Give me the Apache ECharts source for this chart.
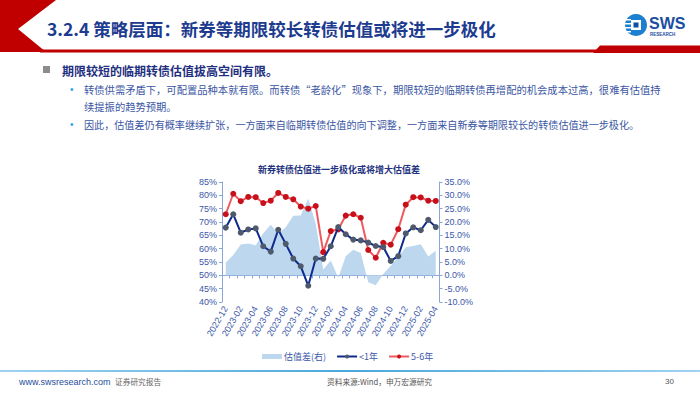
<!DOCTYPE html>
<html>
<head>
<meta charset="utf-8">
<script src="https://cdn.jsdelivr.net/npm/echarts@6/dist/echarts.min.js"></script>
<style>
html,body{margin:0;padding:0;background:#fff;}
#c{width:700px;height:394px;}
</style>
</head>
<body>
<div id="c"></div>
<script>
// ---- data ----
var months = ['2022-12','2023-01','2023-02','2023-03','2023-04','2023-05','2023-06','2023-07','2023-08','2023-09','2023-10','2023-11','2023-12','2024-01','2024-02','2024-03','2024-04','2024-05','2024-06','2024-07','2024-08','2024-09','2024-10','2024-11','2024-12','2025-01','2025-02','2025-03','2025-04'];
var spread = [4.7, 7.6, 11.6, 11.9, 11.3, 15.8, 19.0, 15.6, 18.0, 22.3, 22.4, 28.7, 19.3, 2.2, 5.6, -0.9, 7.2, 9.6, 8.4, -2.6, -3.7, 0.5, 3.6, 7.0, 10.5, 11.0, 11.7, 7.1, 9.2];
var lt1 = [67.9, 72.9, 66.0, 67.2, 67.6, 60.9, 58.9, 67.1, 61.8, 56.3, 53.4, 46.1, 56.3, 56.2, 60.9, 68.1, 65.4, 63.4, 63.1, 62.3, 61.0, 60.6, 55.4, 57.2, 65.7, 68.0, 66.9, 70.8, 68.1];
var y56 = [72.9, 80.6, 77.8, 79.4, 79.3, 77.1, 78.0, 80.9, 79.4, 78.5, 75.8, 75.0, 76.0, 58.7, 66.6, 67.2, 72.4, 72.9, 71.6, 59.5, 56.6, 62.2, 61.5, 67.3, 76.5, 79.3, 79.2, 78.0, 77.9];
var leftTicks = {min: 40, max: 85, step: 5};
var rightTicks = {min: -10, max: 35, step: 5};

var CJK = '"Noto Sans CJK SC", "Liberation Sans", sans-serif';
var LAT = '"Liberation Sans", "Noto Sans CJK SC", sans-serif';
var axisBlue = '#8aa6d8';
var labelBlue = '#3a57a8';

var chart = echarts.init(document.getElementById('c'), null, {renderer: 'svg'});

function txt(text, x, y, size, color, weight, family, align) {
  return {
    type: 'text', silent: true,
    style: {
      text: text, x: x, y: y, fill: color,
      font: (weight || 'normal') + ' ' + size + 'px ' + (family || CJK),
      align: align || 'left', verticalAlign: 'middle'
    }
  };
}

var graphics = [
  // header chevron
  {type: 'polygon', silent: true, shape: {points: [[0,0],[56,0],[18,29],[46,52],[0,52]]}, style: {fill: '#c00000'}},
  {type: 'rect', silent: true, shape: {x: 40, y: 49.5, width: 560, height: 3}, style: {fill: '#c00000'}},
  {type: 'polygon', silent: true, shape: {points: [[600,45.5],[700,45.5],[700,53],[593,53]]}, style: {fill: '#c00000'}},
  txt('3.2.4 策略层面：新券等期限较长转债估值或将进一步极化', 47, 28, 17.5, '#1d3b8f', 'bold'),
  // logo
  {type: 'circle', silent: true, shape: {cx: 636, cy: 25, r: 11}, style: {fill: '#1c7fd0'}},
  {type: 'rect', silent: true, shape: {x: 622, y: 19, width: 9, height: 1.5}, style: {fill: '#fff'}},
  {type: 'rect', silent: true, shape: {x: 622, y: 23, width: 9, height: 1.5}, style: {fill: '#fff'}},
  {type: 'rect', silent: true, shape: {x: 622, y: 27, width: 9, height: 1.5}, style: {fill: '#fff'}},
  {type: 'rect', silent: true, shape: {x: 622, y: 31, width: 9, height: 1.5}, style: {fill: '#fff'}},
  {type: 'rect', silent: true, shape: {x: 631, y: 20, width: 10, height: 10}, style: {fill: '#fff'}},
  {type: 'rect', silent: true, shape: {x: 633.5, y: 22.5, width: 5, height: 5}, style: {fill: '#0e4fa3'}},
  txt('SWS', 649, 23, 16, '#1a4ea0', 'bold', LAT),
  txt('RESEARCH', 650, 34, 4.5, '#1a4ea0', 'bold', LAT),
  // bullets
  {type: 'rect', silent: true, shape: {x: 43, y: 66, width: 7, height: 7}, style: {fill: '#8c8c8c'}},
  txt('期限较短的临期转债估值拔高空间有限。', 62, 70, 12, '#1f2f80', 'bold'),
  txt('•', 70, 89, 10, '#2aa3df', 'normal', LAT),
  txt('转债供需矛盾下，可配置品种本就有限。而转债“老龄化”现象下，期限较短的临期转债再增配的机会成本过高，很难有估值持', 84, 89, 10.3, '#3b56a3'),
  txt('续提振的趋势预期。', 84, 106, 10.3, '#3b56a3'),
  txt('•', 70, 124, 10, '#2aa3df', 'normal', LAT),
  txt('因此，估值差仍有概率继续扩张，一方面来自临期转债估值的向下调整，一方面来自新券等期限较长的转债估值进一步极化。', 84, 124, 10.1, '#3b56a3'),
  // footer
  {type: 'rect', silent: true, shape: {x: 0, y: 370, width: 700, height: 2},
    style: {fill: new echarts.graphic.LinearGradient(0, 0, 1, 0, [{offset: 0, color: '#9fd3f0'}, {offset: 0.5, color: '#4aa8dc'}, {offset: 1, color: '#9fd3f0'}])}},
  txt('www.swsresearch.com', 19, 382, 9, '#1f4e9c', 'normal', LAT),
  txt('证券研究报告', 115, 381, 7.7, '#666666'),
  txt('资料来源:Wind，申万宏源研究', 327, 381, 7.7, '#555555'),
  txt('30', 665, 381, 8, '#555555', 'normal', LAT)
];

var option = {
  animation: false,
  backgroundColor: '#ffffff',
  title: {
    text: '新券转债估值进一步极化或将增大估值差',
    left: 253, top: 160,
    textStyle: {fontSize: 9, fontWeight: 'bold', color: '#1f3380', fontFamily: CJK}
  },
  graphic: graphics,
  legend: {
    left: 257, top: 347,
    itemWidth: 20, itemHeight: 5, itemGap: 10,
    textStyle: {fontSize: 9, color: labelBlue, fontFamily: CJK, padding: [0,0,0,-3]},
    data: [
      {name: '估值差(右)', icon: 'rect', itemStyle: {color: '#bdd7ee'}},
      {name: '<1年'},
      {name: '5-6年'}
    ]
  },
  grid: {left: 222, top: 182, width: 217.5, height: 120},
  xAxis: {
    type: 'category', data: months, boundaryGap: true,
    axisLine: {lineStyle: {color: axisBlue, width: 1}},
    axisTick: {show: true, interval: 0, length: 3, lineStyle: {color: axisBlue}},
    axisLabel: {interval: 1, rotate: 60, fontSize: 9, color: labelBlue, fontFamily: LAT, margin: 5},
    splitLine: {show: false}
  },
  yAxis: [
    {
      type: 'value', position: 'left', min: leftTicks.min, max: leftTicks.max, interval: leftTicks.step,
      axisLine: {show: true, lineStyle: {color: axisBlue}},
      axisTick: {show: true, length: 3, lineStyle: {color: axisBlue}},
      splitLine: {show: false},
      axisLabel: {formatter: '{value}%', fontSize: 9, color: labelBlue, fontFamily: LAT, margin: 5}
    },
    {
      type: 'value', position: 'right', min: rightTicks.min, max: rightTicks.max, interval: rightTicks.step,
      axisLine: {show: true, lineStyle: {color: axisBlue}},
      axisTick: {show: true, length: 3, lineStyle: {color: axisBlue}},
      splitLine: {show: false},
      axisLabel: {formatter: function (v) { return v.toFixed(1) + '%'; }, fontSize: 9, color: labelBlue, fontFamily: LAT, margin: 5}
    }
  ],
  series: [
    {
      name: '估值差(右)', type: 'line', yAxisIndex: 1, data: spread,
      symbol: 'none', lineStyle: {width: 0, color: '#bdd7ee'},
      itemStyle: {color: '#bdd7ee'},
      areaStyle: {color: '#bdd7ee', opacity: 1}, z: 1
    },
    {
      name: '5-6年', type: 'line', yAxisIndex: 0, data: y56,
      symbol: 'circle', symbolSize: 6, showAllSymbol: true,
      lineStyle: {color: '#ee5a5f', width: 2},
      itemStyle: {color: '#c8101a'}, z: 3
    },
    {
      name: '<1年', type: 'line', yAxisIndex: 0, data: lt1,
      symbol: 'circle', symbolSize: 6, showAllSymbol: true,
      lineStyle: {color: '#0d2a8c', width: 2},
      itemStyle: {color: '#4e5a6c'}, z: 4
    }
  ]
};
chart.setOption(option);
</script>
</body>
</html>
